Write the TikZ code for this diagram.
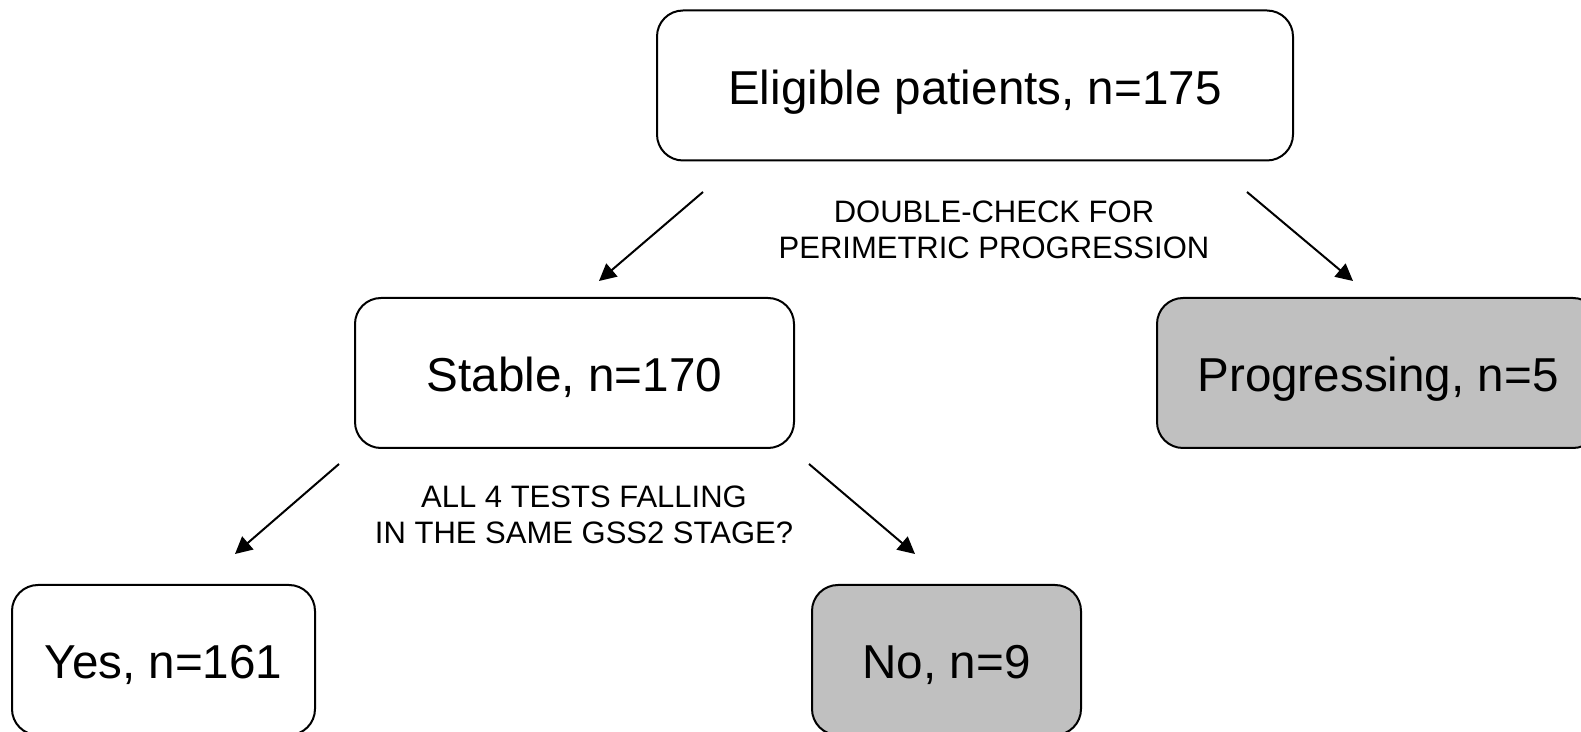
\documentclass[tikz,border=0pt]{standalone}
\usepackage{fontspec}
\setmainfont{Liberation Sans}
\usetikzlibrary{arrows.meta,positioning}
\definecolor{boxgrey}{HTML}{C0C0C0}

\begin{document}
\begin{tikzpicture}[
    x=0.5pt,y=-0.5pt,
    box/.style={draw,line width=1pt,rounded corners=13pt,inner sep=0pt,
      minimum height=75pt,text height=19pt,text depth=0pt,
      font=\fontsize{23.8}{28}\selectfont},
    grey/.style={box,fill=boxgrey},
    note/.style={align=center,font=\fontsize{15.5}{18}\selectfont},
    arr/.style={line width=1pt,-{Triangle[length=8.5pt,width=8.5pt]}},
    ]
    \useasboundingbox (0,0) rectangle (1581,732);
    % boxes
    \node[box,minimum width=318pt] (elig) at (975,85.5) {Eligible patients, n=175};
    \node[box,minimum width=219.5pt] (stable) at (574.5,373) {Stable, n=170};
    \node[grey,minimum width=221pt] (prog) at (1378,373) {Progressing, n=5};
    \node[box,minimum width=151.5pt] (yes) at (163.5,660) {Yes, n=161};
    \node[grey,minimum width=134.5pt] (no) at (946.5,660) {No, n=9};
    % questions
    \node[note] (dbl) at (994,230) {DOUBLE-CHECK FOR\\PERIMETRIC PROGRESSION};
    \node[note] (same) at (584,515) {ALL 4 TESTS FALLING\\IN THE SAME GSS2 STAGE?};
    % arrow ends
    \coordinate (e1) at (703,192); \coordinate (s1) at (599,281);
    \coordinate (e2) at (1247,192); \coordinate (p1) at (1353,281);
    \coordinate (s2) at (339,464); \coordinate (y1) at (235,554);
    \coordinate (s3) at (809,464); \coordinate (n1) at (915,554);
    \draw[arr] (e1) -- (s1);
    \draw[arr] (e2) -- (p1);
    \draw[arr] (s2) -- (y1);
    \draw[arr] (s3) -- (n1);
  \end{tikzpicture}
\end{document}
